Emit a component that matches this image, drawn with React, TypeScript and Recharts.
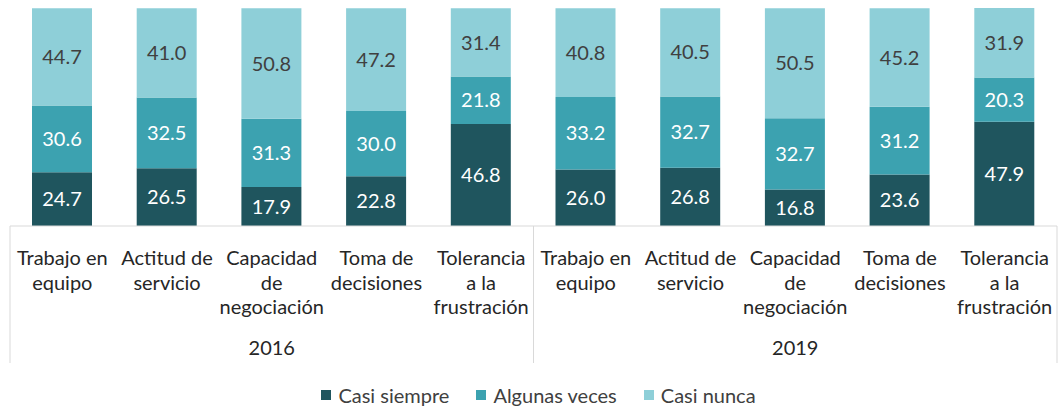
import React from 'react';
import { BarChart, Bar, XAxis, YAxis, LabelList } from 'recharts';

const years = ['2016', '2019'];
const skills = [
  ['Trabajo en', 'equipo'],
  ['Actitud de', 'servicio'],
  ['Capacidad', 'de', 'negociación'],
  ['Toma de', 'decisiones'],
  ['Tolerancia', 'a la', 'frustración'],
];
const casiSiempre = [24.7, 26.5, 17.9, 22.8, 46.8, 26.0, 26.8, 16.8, 23.6, 47.9];
const algunasVeces = [30.6, 32.5, 31.3, 30.0, 21.8, 33.2, 32.7, 32.7, 31.2, 20.3];
const casiNunca = [44.7, 41.0, 50.8, 47.2, 31.4, 40.8, 40.5, 50.5, 45.2, 31.9];

const series = [
  { key: 'siempre', name: 'Casi siempre', color: '#1f555e', text: '#ffffff' },
  { key: 'algunas', name: 'Algunas veces', color: '#3ca2b0', text: '#ffffff' },
  { key: 'nunca', name: 'Casi nunca', color: '#8ecfd8', text: '#404040' },
];

const data = casiSiempre.map((v, i) => ({
  id: String(i),
  year: years[Math.floor(i / skills.length)],
  lines: skills[i % skills.length],
  siempre: v,
  algunas: algunasVeces[i],
  nunca: casiNunca[i],
}));

const W = 1058;
const H = 408;
const LEGEND_H = 38;
const margin = { top: 8, right: 1, left: 10, bottom: LEGEND_H };
const band = (W - margin.left - margin.right) / data.length;
const FONT = 'Lato, "Open Sans", sans-serif';

const CategoryTick = (props: any) => {
  const { x, y, index } = props;
  const row = data[index];
  if (!row) return null;
  const pos = index % skills.length;
  const sepColor = '#d9d9d9';
  return (
    <g>
      {row.lines.map((t: string, k: number) => (
        <text
          key={k}
          x={x}
          y={y + 39 + k * 24.5}
          textAnchor="middle"
          fontSize={20}
          fontFamily={FONT}
          fill="#262626"
        >
          {t}
        </text>
      ))}
      {pos === Math.floor(skills.length / 2) && (
        <text x={x} y={y + 129} textAnchor="middle" fontSize={20} fontFamily={FONT} fill="#262626">
          {row.year}
        </text>
      )}
      {index === 0 && (
        <line x1={x - band / 2} x2={x - band / 2} y1={y} y2={y + 137} stroke={sepColor} />
      )}
      {pos === skills.length - 1 && (
        <line x1={x + band / 2} x2={x + band / 2} y1={y} y2={y + 137} stroke={sepColor} />
      )}
    </g>
  );
};

const ChartLegend = () => (
  <div
    style={{
      position: 'absolute',
      left: 0,
      top: H - LEGEND_H,
      width: W,
      height: LEGEND_H,
      display: 'flex',
      alignItems: 'center',
      justifyContent: 'center',
      gap: 27,
      fontFamily: FONT,
      fontSize: 20,
      color: '#404040',
      paddingLeft: 19,
      paddingTop: 12,
      boxSizing: 'border-box',
    }}
  >
    {series.map((s) => (
      <div key={s.key} style={{ display: 'flex', alignItems: 'center', gap: 7 }}>
        <span style={{ width: 10, height: 10, background: s.color, display: 'inline-block' }} />
        <span>{s.name}</span>
      </div>
    ))}
  </div>
);

export default function App() {
  return (
    <div style={{ position: 'absolute', left: 0, top: 0, width: W, height: H, background: '#fff' }}>
      <BarChart width={W} height={H} data={data} margin={margin} barCategoryGap={0}>
        <XAxis
          dataKey="id"
          interval={0}
          height={144}
          tickLine={false}
          tickSize={0}
          tickMargin={0}
          axisLine={{ stroke: '#d9d9d9' }}
          tick={<CategoryTick />}
        />
        <YAxis hide domain={[0, 100]} />
        {series.map((s) => (
          <Bar
            key={s.key}
            dataKey={s.key}
            name={s.name}
            stackId="a"
            fill={s.color}
            barSize={60}
            isAnimationActive={false}
          >
            <LabelList
              dataKey={s.key}
              position="center"
              fill={s.text}
              fontSize={20}
              fontFamily={FONT}
              formatter={(v: any) => Number(v).toFixed(1)}
            />
          </Bar>
        ))}
      </BarChart>
      <ChartLegend />
    </div>
  );
}
